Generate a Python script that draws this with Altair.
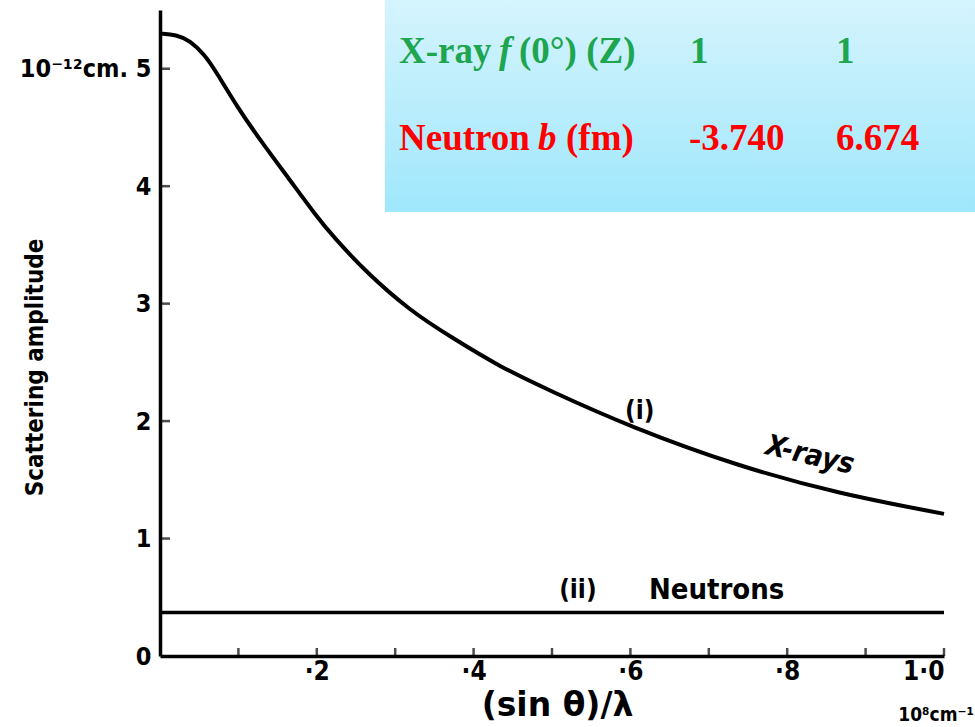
import altair as alt
import pandas as pd

# ---- data ----
xray_s = [0.0, 0.021, 0.038, 0.057, 0.072, 0.098, 0.128, 0.166, 0.2, 0.221, 0.264,
          0.319, 0.37, 0.434, 0.497, 0.6, 0.74, 0.867, 1.0]
xray_amp = [5.30, 5.29, 5.24, 5.12, 4.97, 4.68, 4.39, 4.05, 3.74, 3.57, 3.26,
            2.94, 2.72, 2.46, 2.26, 1.95, 1.61, 1.38, 1.21]
neutron_s = [0.0, 1.0]
neutron_amp = [0.37, 0.37]

x_minor_ticks = [0.1, 0.2, 0.3, 0.4, 0.5, 0.6, 0.7, 0.8, 0.9, 1.0]
x_label_values = [0.2, 0.4, 0.6, 0.8, 1.0]
y_ticks = [1, 2, 3, 4, 5]
y_label_values = [0, 1, 2, 3, 4, 5]

xray_f0 = ["1", "1"]
neutron_b = ["-3.740", "6.674"]

FONT = "DejaVu Sans Condensed, DejaVu Sans"
WIDEFONT = "DejaVu Sans"
SERIF = "Liberation Serif, Times New Roman, serif"
GREEN = "#1ea550"
RED = "#ff0000"

W, H = 784, 646

xray_df = pd.DataFrame({"s": xray_s, "amp": xray_amp})
neut_df = pd.DataFrame({"s": neutron_s, "amp": neutron_amp})

xscale = alt.Scale(domain=[0, 1.0], nice=False, zero=False)
yscale = alt.Scale(domain=[0, 5.5], nice=False, zero=False)

xaxis = alt.Axis(
    values=x_label_values,
    labelExpr="datum.value == 1 ? '1·0' : '·' + round(datum.value * 10)",
    tickSize=0, domainWidth=3.5, domainColor="black", grid=False,
    labelFont=FONT, labelFontSize=26, labelFontWeight="bold", labelColor="black",
    labelPadding=2,
    title="(sin θ)/λ", titleFont=WIDEFONT, titleFontSize=33, titleFontWeight="bold",
    titleColor="black", titleX=397, titleY=59, titleBaseline="alphabetic",
)
yaxis = alt.Axis(
    values=y_label_values, format="d",
    labelExpr="datum.value == 5 ? '10⁻¹²cm. 5' : datum.label",
    tickSize=0, domainWidth=3.5, domainColor="black", grid=False,
    labelFont=FONT, labelFontSize=25, labelFontWeight="bold", labelColor="black",
    labelPadding=9,
    title="Scattering  amplitude", titleFont=FONT, titleFontSize=24,
    titleFontWeight="bold", titleColor="black", titleX=-125, titleY=357,
    titleAlign="center", titleBaseline="middle", titleAngle=-90,
)

xray = alt.Chart(xray_df).mark_line(
    color="black", strokeWidth=4, interpolate="basis"
).encode(
    x=alt.X("s:Q", scale=xscale, axis=xaxis),
    y=alt.Y("amp:Q", scale=yscale, axis=yaxis),
)

neutron = alt.Chart(neut_df).mark_line(color="black", strokeWidth=3.5).encode(
    x=alt.X("s:Q", scale=xscale), y=alt.Y("amp:Q", scale=yscale)
)

xticks = alt.Chart(pd.DataFrame({"s": x_minor_ticks})).mark_tick(
    color="black", orient="vertical", size=8, thickness=2.5, yOffset=-4
).encode(x=alt.X("s:Q", scale=xscale), y=alt.datum(0, scale=yscale))

yticks = alt.Chart(pd.DataFrame({"v": y_ticks})).mark_tick(
    color="black", orient="horizontal", size=10, thickness=2.5, xOffset=5
).encode(y=alt.Y("v:Q", scale=yscale), x=alt.datum(0, scale=xscale))


def label(text, x, y, size=26, angle=0, style="normal", font=FONT,
          color="black", weight="bold", align="center"):
    return alt.Chart(pd.DataFrame({"t": [text]})).mark_text(
        font=font, fontSize=size, angle=angle, fontStyle=style, color=color,
        fontWeight=weight, align=align, baseline="middle",
    ).encode(text="t:N", x=alt.datum(x, scale=xscale), y=alt.datum(y, scale=yscale))


curve_labels = [
    label("(i)", 0.612, 2.09),
    label("X-rays", 0.829, 1.71, size=29, angle=13, style="italic"),
    label("(ii)", 0.533, 0.56),
    label("Neutrons", 0.71, 0.56, size=29),
]

unit = alt.Chart(pd.DataFrame({"t": ["10⁸cm⁻¹"]})).mark_text(
    font=FONT, fontSize=19, fontWeight="bold", align="right", baseline="alphabetic",
    color="black"
).encode(text="t:N", x=alt.value(814), y=alt.value(711))

box = alt.Chart(pd.DataFrame({"a": [0]})).mark_rect(
    fill=alt.LinearGradient(
        gradient="linear",
        stops=[alt.GradientStop(color="#d5f4fd", offset=0),
               alt.GradientStop(color="#9fe7fc", offset=1)],
        x1=0, x2=0, y1=0, y2=1,
    )
).encode(x=alt.value(225), x2=alt.value(815), y=alt.value(-10), y2=alt.value(202))


def boxtext(text, x, y, color, style="normal"):
    return alt.Chart(pd.DataFrame({"t": [text]})).mark_text(
        font=SERIF, fontSize=37, fontWeight="bold", fontStyle=style, color=color,
        align="left", baseline="alphabetic",
    ).encode(text="t:N", x=alt.value(x), y=alt.value(y))


table = [
    boxtext("X-ray", 239, 53, GREEN),
    boxtext("f", 339, 53, GREEN, "italic"),
    boxtext("(0°) (Z)", 359, 53, GREEN),
    boxtext(xray_f0[0], 530, 53, GREEN),
    boxtext(xray_f0[1], 676, 53, GREEN),
    boxtext("Neutron", 239, 140, RED),
    boxtext("b", 378, 140, RED, "italic"),
    boxtext("(fm)", 406, 140, RED),
    boxtext(neutron_b[0], 529, 140, RED),
    boxtext(neutron_b[1], 676, 140, RED),
]

chart = alt.layer(
    xray, neutron, xticks, yticks, *curve_labels, unit, box, *table
).properties(
    width=W, height=H,
    autosize=alt.AutoSizeParams(type="none"),
    padding={"left": 160, "top": 10, "right": 31, "bottom": 71},
    background="white",
).configure_view(stroke=None)

chart.save("out.html", embed_options={"renderer": "svg", "actions": False})
